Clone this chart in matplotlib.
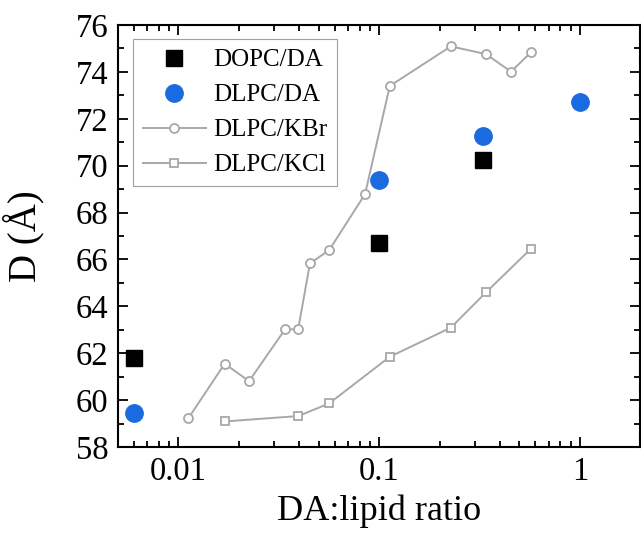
import matplotlib.pyplot as plt
from matplotlib.ticker import FixedLocator, FixedFormatter, LogLocator, NullFormatter, MultipleLocator

plt.rcParams['font.family'] = ['Liberation Serif', 'DejaVu Serif']
plt.rcParams['mathtext.fontset'] = 'stix'

# DA-containing samples
dopc_da_x = [0.006, 0.1, 0.33]
dopc_da_y = [61.78, 66.71, 70.24]
dlpc_da_x = [0.006, 0.1, 0.33, 1.0]
dlpc_da_y = [59.46, 69.39, 71.26, 72.70]

# salt reference series
kbr_x = [0.0112, 0.0170, 0.0225, 0.034, 0.0395, 0.0452, 0.0564, 0.0851, 0.113, 0.2275, 0.340, 0.454, 0.569]
kbr_y = [59.22, 61.55, 60.81, 63.02, 63.02, 65.83, 66.40, 68.79, 73.40, 75.09, 74.76, 74.01, 74.83]
kcl_x = [0.0170, 0.0396, 0.0564, 0.113, 0.2275, 0.341, 0.569]
kcl_y = [59.09, 59.32, 59.86, 61.85, 63.09, 64.60, 66.45]

x_ticks = [0.01, 0.1, 1]
x_tick_labels = ['0.01', '0.1', '1']

fig = plt.figure(figsize=(6.41, 5.37), dpi=100)
ax = fig.add_axes([0.184, 0.1676, 0.815, 0.7858])

gray = '#a8a8a8'
ax.plot(dopc_da_x, dopc_da_y, 's', color='black', markersize=11, linestyle='none', label='DOPC/DA', zorder=4)
ax.plot(dlpc_da_x, dlpc_da_y, 'o', color='#1a6ae0', markersize=12.5, linestyle='none', label='DLPC/DA', zorder=4)
ax.plot(kbr_x, kbr_y, '-o', color=gray, lw=1.4, markersize=6.5, markerfacecolor='white',
        markeredgecolor=gray, markeredgewidth=1.3, label='DLPC/KBr', zorder=3)
ax.plot(kcl_x, kcl_y, '-s', color=gray, lw=1.4, markersize=6, markerfacecolor='white',
        markeredgecolor=gray, markeredgewidth=1.3, label='DLPC/KCl', zorder=3)

ax.set_xscale('log')
ax.set_xlim(0.005, 2)
ax.set_ylim(58, 76)

ax.xaxis.set_major_locator(FixedLocator(x_ticks))
ax.xaxis.set_major_formatter(FixedFormatter(x_tick_labels))
ax.xaxis.set_minor_locator(LogLocator(base=10, subs=range(2, 10)))
ax.xaxis.set_minor_formatter(NullFormatter())
ax.yaxis.set_major_locator(MultipleLocator(2))
ax.yaxis.set_minor_locator(MultipleLocator(1))

ax.tick_params(which='both', direction='in', top=True, right=True, width=1.3)
ax.tick_params(which='major', length=7, labelsize=23.5, pad=7)
ax.tick_params(which='minor', length=4)
for s in ax.spines.values():
    s.set_linewidth(1.5)

ax.set_xlabel('DA:lipid ratio', fontsize=26, labelpad=5)
ax.set_ylabel('D (Å)', fontsize=28, labelpad=22)

leg = ax.legend(loc='upper left', bbox_to_anchor=(0.029, 0.967), borderaxespad=0,
                fontsize=18, frameon=True, fancybox=False, edgecolor='#888888',
                handlelength=2.5, handletextpad=0.3, labelspacing=0.5, borderpad=0.4)
leg.get_frame().set_linewidth(0.8)

fig.savefig('out.png', dpi=100)
